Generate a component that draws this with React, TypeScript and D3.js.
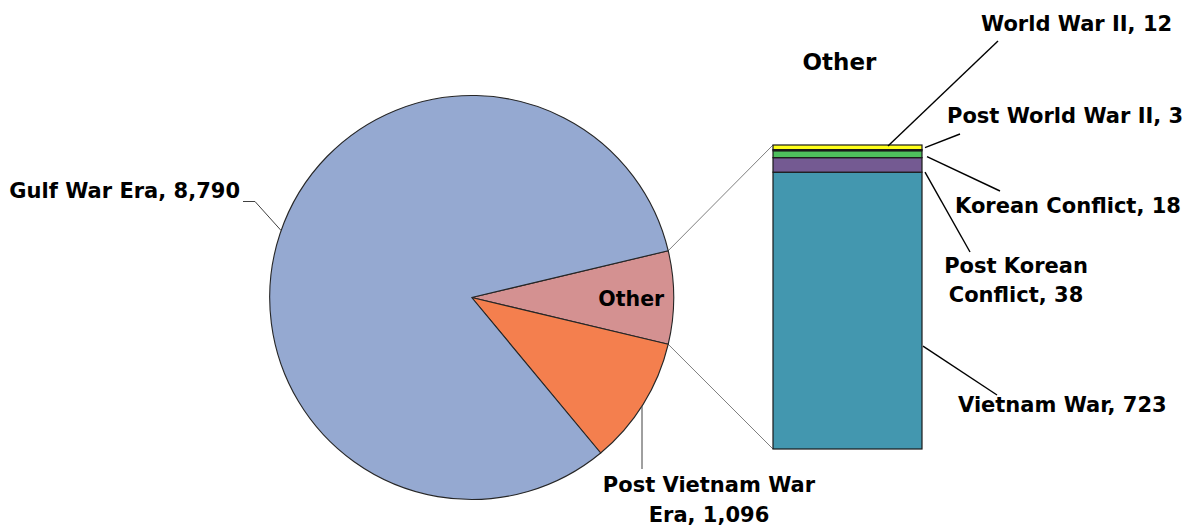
import React from "react";
import * as d3 from "d3";

// ---- data ----
const pieCategories = ["Other", "Post Vietnam War Era", "Gulf War Era"];
const gulfWarEra = 8790;
const postVietnamEra = 1096;
const otherCategories = ["Vietnam War", "Post Korean Conflict", "Korean Conflict", "Post World War II", "World War II"];
const otherValues = [723, 38, 18, 3, 12];
const otherTotal = d3.sum(otherValues);
const pieValues = [otherTotal, postVietnamEra, gulfWarEra];

const pieColors = ["#D49191", "#F47F4E", "#95A9D1"];
const barColors = ["#4397AF", "#745A92", "#4EBF5D", "#3A3A3A", "#FFFF1A"];

const fmt = d3.format(",");
const LABEL_FONT = "'DejaVu Sans', sans-serif";

export default function App() {
  const W = 1190, H = 529;
  const cx = 471.7, cy = 297.5, r = 202;

  const otherAngle = (otherTotal / d3.sum(pieValues)) * 2 * Math.PI;
  const pie = d3
    .pie<number>()
    .sort(null)
    .value((d) => d)
    .startAngle(Math.PI / 2 - otherAngle / 2)
    .endAngle(Math.PI / 2 - otherAngle / 2 + 2 * Math.PI);
  const arcs = pie(pieValues);
  const arcGen = d3.arc<d3.PieArcDatum<number>>().innerRadius(0).outerRadius(r);

  const pt = (a: number, rr: number) => [cx + rr * Math.sin(a), cy - rr * Math.cos(a)];

  // bar
  const barX0 = 773, barX1 = 922;
  const y = d3.scaleLinear().domain([0, otherTotal]).range([449, 145]);
  const stackTops = d3.cumsum(otherValues);
  const segs = otherValues.map((v, i) => ({
    name: otherCategories[i],
    v,
    y0: y(stackTops[i] - v),
    y1: y(stackTops[i]),
    color: barColors[i],
  }));

  const otherArc = arcs[0];
  const pTop = pt(otherArc.startAngle, r);
  const pBot = pt(otherArc.endAngle, r);
  const gulfMid = pt(arcs[2].startAngle + (arcs[2].endAngle - arcs[2].startAngle) * 0.503, r);

  const segLabels = [
    { lines: [`${otherCategories[0]}, ${fmt(otherValues[0])}`], x: 958, y: 412, anchor: "start", lx1: barX1 + 1, ly1: segs[0].y1 + 174, lx2: 997, ly2: 395 },
    { lines: ["Post Korean", `Conflict, ${fmt(otherValues[1])}`], x: 1016, y: 273, anchor: "middle", lx1: barX1 + 3, ly1: segs[1].y0, lx2: 970, ly2: 252 },
    { lines: [`${otherCategories[2]}, ${fmt(otherValues[2])}`], x: 955, y: 213, anchor: "start", lx1: barX1 + 5, ly1: segs[2].y0 - 1, lx2: 1000, ly2: 191 },
    { lines: [`${otherCategories[3]}, ${fmt(otherValues[3])}`], x: 947, y: 123, anchor: "start", lx1: barX1 + 3, ly1: segs[3].y1 - 2, lx2: 960, ly2: 134 },
    { lines: [`${otherCategories[4]}, ${fmt(otherValues[4])}`], x: 981, y: 31, anchor: "start", lx1: 888, ly1: segs[4].y1 + 1, lx2: 998, ly2: 41 },
  ];

  return (
    <svg width={W} height={H} style={{ position: "absolute", left: 0, top: 0, background: "#fff" }}>
      {/* connectors pie -> bar */}
      <line x1={pTop[0]} y1={pTop[1]} x2={barX0} y2={y(otherTotal)} stroke="#7f7f7f" strokeWidth={1} />
      <line x1={pBot[0]} y1={pBot[1]} x2={barX0} y2={y(0)} stroke="#7f7f7f" strokeWidth={1} />

      {/* pie */}
      <g transform={`translate(${cx},${cy})`}>
        {arcs.map((a, i) => (
          <path key={i} d={arcGen(a) || ""} fill={pieColors[i]} stroke="#262626" strokeWidth={1.1} strokeLinejoin="round" />
        ))}
      </g>

      {/* pie labels */}
      <text x={pt((otherArc.startAngle + otherArc.endAngle) / 2, r * 0.79)[0]} y={306} textAnchor="middle"
        fontFamily={LABEL_FONT} fontWeight="bold" fontSize={20.5} fill="#000">{pieCategories[0]}</text>

      <polyline points={`243,201.5 255,201.5 ${gulfMid[0]},${gulfMid[1]}`}
        fill="none" stroke="#404040" strokeWidth={1} />
      <text x={240} y={198} textAnchor="end" fontFamily={LABEL_FONT} fontWeight="bold" fontSize={21} fill="#000">
        {`Gulf War Era, ${fmt(gulfWarEra)}`}
      </text>

      <line x1={642} y1={cy + Math.sqrt(r * r - (642 - cx) ** 2)} x2={642} y2={469} stroke="#404040" strokeWidth={1} />
      <text textAnchor="middle" fontFamily={LABEL_FONT} fontWeight="bold" fontSize={21} fill="#000">
        <tspan x={709} y={492}>Post Vietnam War</tspan>
        <tspan x={709} y={522}>{`Era, ${fmt(postVietnamEra)}`}</tspan>
      </text>

      {/* stacked bar */}
      {segs.map((s, i) => (
        <rect key={i} x={barX0} y={s.y1} width={barX1 - barX0} height={Math.max(0, s.y0 - s.y1)}
          fill={s.color} stroke="#1a1a1a" strokeWidth={1.2} />
      ))}

      {/* bar title */}
      <text x={839.5} y={70} textAnchor="middle" fontFamily={LABEL_FONT} fontWeight="bold" fontSize={23} fill="#000">Other</text>

      {/* bar labels */}
      {segLabels.map((l, i) => (
        <g key={i}>
          <line x1={l.lx1} y1={l.ly1} x2={l.lx2} y2={l.ly2} stroke="#000" strokeWidth={1.4} />
          <text textAnchor={l.anchor as any} fontFamily={LABEL_FONT} fontWeight="bold" fontSize={21} fill="#000">
            {l.lines.map((t, j) => (
              <tspan key={j} x={l.x} y={l.y + j * 29}>{t}</tspan>
            ))}
          </text>
        </g>
      ))}
    </svg>
  );
}
